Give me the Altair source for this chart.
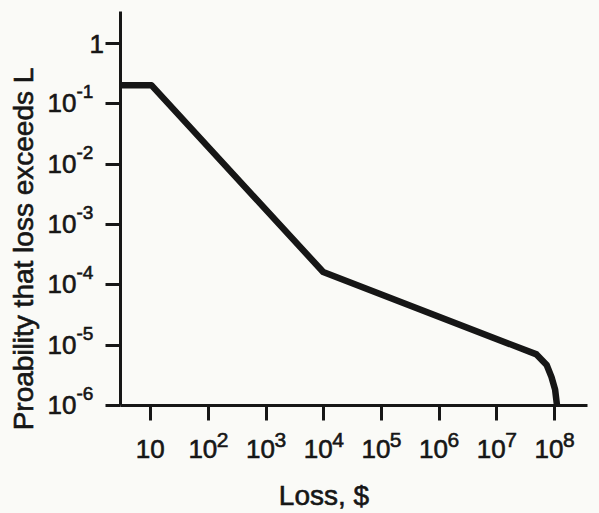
import altair as alt
import pandas as pd

# ---- data ----
loss = [3.0, 10.5, 1.0e4, 5.0e7, 7.5e7, 9.1e7, 1.05e8, 1.12e8, 1.13e8]
prob = [0.2, 0.2, 1.6e-4, 6.9e-6, 4.6e-6, 2.9e-6, 1.8e-6, 1.07e-6, 1.0e-6]

x_ticks = [10, 1e2, 1e3, 1e4, 1e5, 1e6, 1e7, 1e8]
x_exp_vals = [1e2, 1e3, 1e4, 1e5, 1e6, 1e7, 1e8]
x_exp_txt = ["2", "3", "4", "5", "6", "7", "8"]

y_ticks = [1, 1e-1, 1e-2, 1e-3, 1e-4, 1e-5, 1e-6]
y_exp_vals = [1e-1, 1e-2, 1e-3, 1e-4, 1e-5, 1e-6]
y_exp_txt = ["-1", "-2", "-3", "-4", "-5", "-6"]

x_title = "Loss, $"
y_title = "Proability that loss exceeds L"

FONT = "Liberation Sans"
INK = "#161616"
TXT = dict(font=FONT, color=INK, stroke=INK, strokeWidth=0.6)

xscale = alt.Scale(type="log", domain=[3.0, 3.75e8], nice=False)
yscale = alt.Scale(type="log", domain=[1e-6, 3.39], nice=False)

line_df = pd.DataFrame({"loss": loss, "prob": prob})

line = alt.Chart(line_df).mark_line(
    color=INK, strokeWidth=6.5, strokeJoin="round", clip=False
).encode(
    x=alt.X("loss:Q", scale=xscale, axis=alt.Axis(
        values=x_ticks, labels=False, grid=False, tickSize=15, tickWidth=3,
        tickColor=INK, domainWidth=3, domainColor=INK, title=None)),
    y=alt.Y("prob:Q", scale=yscale, axis=alt.Axis(
        values=y_ticks, labels=False, grid=False, tickSize=15, tickWidth=3,
        tickColor=INK, domainWidth=3, domainColor=INK, title=None)),
    order=alt.Order("loss:Q"),
)

# axis titles
title_df = pd.DataFrame({"t": [x_title]})
ytitle_df = pd.DataFrame({"t": [y_title]})

x_tit = alt.Chart(title_df).mark_text(
    fontSize=28, align="center", baseline="alphabetic", **TXT
).encode(x=alt.value(204), y=alt.value(494), text="t:N")

y_tit = alt.Chart(ytitle_df).mark_text(
    fontSize=28, align="center", baseline="alphabetic", angle=270, **TXT
).encode(x=alt.value(-87), y=alt.value(238), text="t:N")

# x tick labels
x_single = pd.DataFrame({"v": [10], "t": ["10"]})
x_multi = pd.DataFrame({"v": x_exp_vals, "e": x_exp_txt})

xl_single = alt.Chart(x_single).mark_text(
    fontSize=26, align="center", baseline="alphabetic", **TXT
).encode(x=alt.X("v:Q", scale=xscale, axis=None), y=alt.value(447), text="t:N")

xl_base = alt.Chart(x_multi).mark_text(
    fontSize=26, align="right", baseline="alphabetic", dx=9.5, **TXT
).encode(x=alt.X("v:Q", scale=xscale, axis=None), y=alt.value(447), text=alt.value("10"))

xl_exp = alt.Chart(x_multi).mark_text(
    fontSize=21, align="left", baseline="alphabetic", dx=9, **TXT
).encode(x=alt.X("v:Q", scale=xscale, axis=None), y=alt.value(436), text="e:N")

# y tick labels
y_one = pd.DataFrame({"v": [1], "t": ["1"]})
y_multi = pd.DataFrame({"v": y_exp_vals, "e": y_exp_txt})

yl_one = alt.Chart(y_one).mark_text(
    fontSize=26, align="right", baseline="alphabetic", dy=10, **TXT
).encode(y=alt.Y("v:Q", scale=yscale, axis=None), x=alt.value(-16), text="t:N")

yl_base = alt.Chart(y_multi).mark_text(
    fontSize=26, align="right", baseline="alphabetic", dy=9, **TXT
).encode(y=alt.Y("v:Q", scale=yscale, axis=None), x=alt.value(-43.5), text=alt.value("10"))

yl_exp = alt.Chart(y_multi).mark_text(
    fontSize=19, align="left", baseline="alphabetic", dy=-5, **TXT
).encode(y=alt.Y("v:Q", scale=yscale, axis=None), x=alt.value(-43.5), text="e:N")

chart = alt.layer(
    line, x_tit, y_tit, xl_single, xl_base, xl_exp, yl_one, yl_base, yl_exp
).resolve_axis(
    x="independent", y="independent"
).properties(
    width=467, height=394,
    autosize=alt.AutoSizeParams(type="none"),
    padding={"left": 120, "top": 11, "right": 12, "bottom": 108},
    background="#fafaf7",
).configure_view(stroke=None)

chart.save("out.html", embed_options={"renderer": "svg", "actions": False})
